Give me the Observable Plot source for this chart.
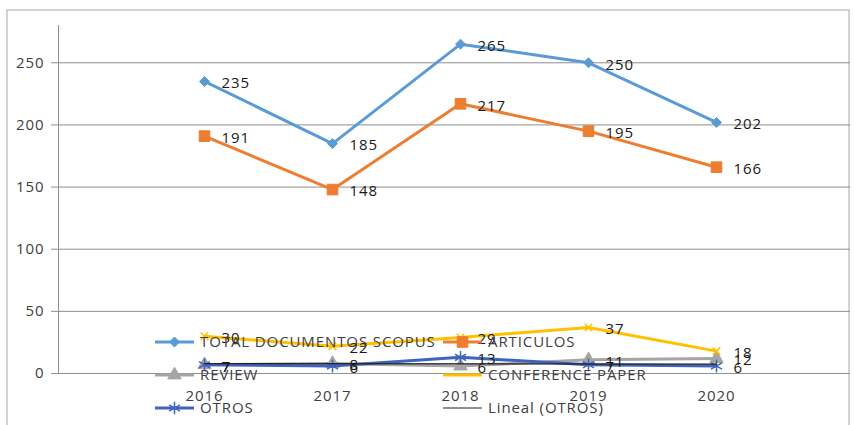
<!DOCTYPE html>
<html>
<head>
<meta charset="utf-8">
<script src="https://cdn.jsdelivr.net/npm/d3@7"></script>
<script src="https://cdn.jsdelivr.net/npm/@observablehq/plot@0.6"></script>
<style>
  html, body { margin: 0; padding: 0; background: #ffffff; }
  #chart { position: relative; width: 854px; height: 425px; overflow: hidden; }
  #chart svg text { letter-spacing: 0.9px; }
</style>
</head>
<body>
<div id="chart"></div>
<script>
// ---- data ----
const years = ["2016", "2017", "2018", "2019", "2020"];
const total = [235, 185, 265, 250, 202];
const articulos = [191, 148, 217, 195, 166];
const review = [7, 8, 6, 11, 12];
const conference = [30, 22, 29, 37, 18];
const otros = [7, 6, 13, 7, 6];
const seriesNames = ["TOTAL DOCUMENTOS SCOPUS", "ARTICULOS", "REVIEW", "CONFERENCE PAPER", "OTROS"];
const trendName = "Lineal (OTROS)";
const yTicks = [0, 50, 100, 150, 200, 250];

// ---- styling ----
const FONT = "'Open Sans', Lato, sans-serif";
const FS = 15;
const styles = [
  {color: "#5B9BD5", symbol: "diamond2", r: 4.5, fill: true},
  {color: "#ED7D31", symbol: "square", r: 6, fill: true},
  {color: "#A5A5A5", symbol: "triangle", r: 5, fill: true},
  {color: "#FFC000", symbol: "times", r: 3.5, fill: false},
  {color: "#3F63BF", symbol: "asterisk", r: 6, fill: false}
];
const trendColor = "#222222";

const valuesList = [total, articulos, review, conference, otros];
const rows = [];
valuesList.forEach((vals, s) => vals.forEach((v, i) => rows.push({series: seriesNames[s], s, year: years[i], value: v})));

// linear trend of OTROS (Excel: x = 1..n)
const xs = otros.map((_, i) => i + 1);
const mx = d3.mean(xs), my = d3.mean(otros);
const slope = d3.sum(xs.map((x, i) => (x - mx) * (otros[i] - my))) / d3.sum(xs.map(x => (x - mx) ** 2));
const icpt = my - slope * mx;
const trend = [
  {year: years[0], value: icpt + slope * xs[0]},
  {year: years[years.length - 1], value: icpt + slope * xs[xs.length - 1]}
];

const marks = [
  Plot.gridY(yTicks, {stroke: "#8f8f8f", strokeOpacity: 1, strokeWidth: 1}),
  Plot.frame({anchor: "left", stroke: "#8f8f8f"}),
  Plot.axisY(yTicks, {tickSize: 7, tickPadding: 7, stroke: "#8f8f8f", label: null, fill: "#404040", fontSize: FS}),
  Plot.axisX(years, {tickSize: 0, tickPadding: 17, label: null, fill: "#404040", fontSize: FS})
];
valuesList.forEach((_, s) => {
  const data = rows.filter(d => d.s === s);
  const st = styles[s];
  marks.push(Plot.line(data, {x: "year", y: "value", stroke: st.color, strokeWidth: 3}));
  marks.push(Plot.dot(data, {
    x: "year", y: "value", symbol: () => st.symbol, r: st.r,
    fill: st.fill ? st.color : "none", stroke: st.color, strokeWidth: st.fill ? 1 : 1.5
  }));
});
marks.push(Plot.line(trend, {x: "year", y: "value", stroke: trendColor, strokeWidth: 1.2}));
marks.push(Plot.text(rows, {
  x: "year", y: "value", text: d => String(d.value), dx: 17, dy: 2,
  textAnchor: "start", fill: "#1a1a1a", fontSize: FS
}));

const chart = Plot.plot({
  width: 854,
  height: 425,
  marginLeft: 58,
  marginRight: 4,
  marginTop: 25,
  marginBottom: 52,
  style: {fontFamily: FONT, fontSize: FS + "px", background: "transparent", overflow: "visible"},
  x: {type: "point", domain: years, range: [140, 780], axis: null},
  y: {domain: [0, 280], axis: null},
  marks
});
document.getElementById("chart").appendChild(chart);

// ---- outer border and legend (overlapping, like the original) ----
const svg = d3.select(chart);
svg.insert("rect", ":first-child")
  .attr("x", 7).attr("y", 10).attr("width", 842).attr("height", 430)
  .attr("fill", "#ffffff").attr("stroke", "#b5b5b5").attr("stroke-width", 1.2);

const symbolType = {diamond2: d3.symbolDiamond2, square: d3.symbolSquare, triangle: d3.symbolTriangle, times: d3.symbolTimes, asterisk: d3.symbolAsterisk};
const legendItems = seriesNames.map((name, s) => ({name, ...styles[s], line: 3}));
legendItems.push({name: trendName, color: trendColor, symbol: null, line: 1.2});
const colX = [155, 443];
const rowY = [342, 375, 408];
const lg = svg.append("g").attr("font-family", FONT).attr("font-size", FS).attr("text-anchor", "start");
legendItems.forEach((it, k) => {
  const x0 = colX[k % 2], y0 = rowY[Math.floor(k / 2)];
  const g = lg.append("g").attr("transform", `translate(${x0},${y0})`);
  g.append("line").attr("x1", 0).attr("x2", 39).attr("y1", 0).attr("y2", 0)
    .attr("stroke", it.color).attr("stroke-width", it.line);
  if (it.symbol && it.symbol !== "times") {
    g.append("path").attr("transform", "translate(19.5,0)")
      .attr("d", d3.symbol().type(symbolType[it.symbol]).size(Math.PI * it.r * it.r)())
      .attr("fill", it.fill ? it.color : "none").attr("stroke", it.color).attr("stroke-width", it.fill ? 1 : 1.5);
  }
  g.append("text").attr("x", 45).attr("y", 0).attr("dy", "0.35em")
    .attr("text-anchor", "start").attr("fill", "#404040").text(it.name);
});
</script>
</body>
</html>
